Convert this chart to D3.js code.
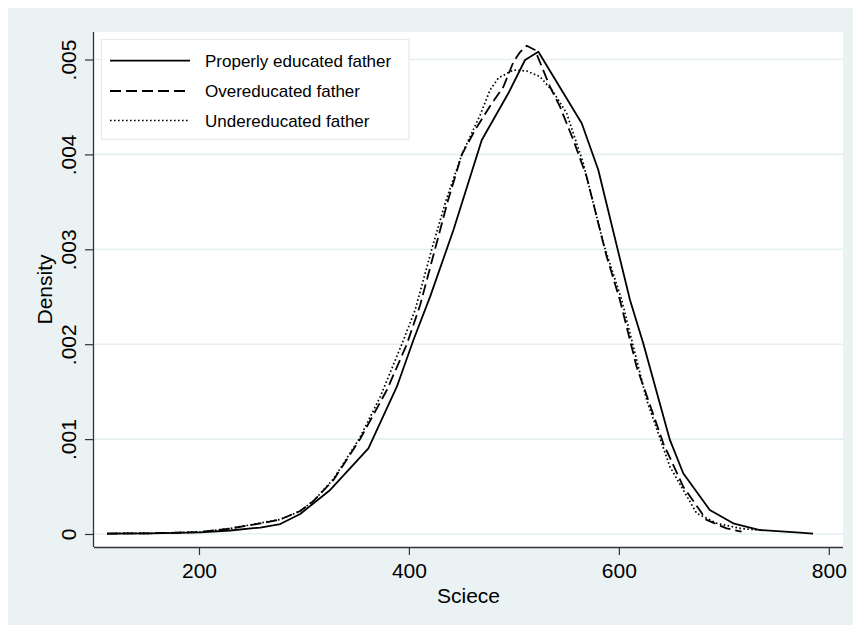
<!DOCTYPE html>
<html>
<head>
<meta charset="utf-8">
<script src="https://cdn.jsdelivr.net/npm/d3@7"></script>
<style>
  html, body { margin: 0; padding: 0; background: #ffffff; overflow: hidden; }
  svg { display: block; }
  text { font-family: "Liberation Sans", Arial, sans-serif; fill: #000; }
</style>
</head>
<body>
<svg id="chart" width="853" height="625"></svg>
<script>
// ---- Data ----
const seriesNames = ["Properly educated father", "Overeducated father", "Undereducated father"];

const properlyEducated = [
  [112.4,0.000005],[153.6,0.000007],[201.2,0.000018],[229.8,0.000037],[258.4,0.000068],
  [277.4,0.000105],[296.4,0.000211],[325.0,0.000464],[361.4,0.000903],[388.5,0.001552],
  [404.3,0.002044],[420.2,0.002501],[442.4,0.003203],[469.4,0.004152],[494.7,0.004644],
  [510.6,0.004995],[523.3,0.005082],[564.6,0.004328],[580.4,0.003836],[610.6,0.002466],
  [623.2,0.002009],[648.6,0.000991],[661.3,0.000640],[686.6,0.000253],[708.9,0.000113],
  [734.3,0.000042],[772.4,0.000014],[785.0,0.000005]
];

const overeducated = [
  [112.4,0.000005],[153.6,0.000007],[201.2,0.000021],[229.8,0.000058],[258.4,0.000111],
  [277.4,0.000153],[296.4,0.000242],[309.1,0.000348],[328.1,0.000569],[353.5,0.001001],
  [379.0,0.001517],[398.0,0.001999],[410.7,0.002413],[424.9,0.003003],[437.3,0.003519],
  [450.4,0.003999],[463.0,0.004257],[477.3,0.004510],[490.0,0.004713],[499.5,0.004974],
  [505.9,0.005079],[512.2,0.005145],[520.1,0.005100],[534.4,0.004713],[543.9,0.004503],
  [556.6,0.004152],[569.3,0.003765],[588.4,0.002922],[601.0,0.002466],[616.9,0.001763],
  [642.3,0.000956],[661.3,0.000498],[683.6,0.000148],[702.6,0.000060],[716.9,0.000024]
];

const undereducated = [
  [112.4,0.000005],[153.6,0.000007],[201.2,0.000021],[229.8,0.000058],[258.4,0.000116],
  [277.4,0.000153],[296.4,0.000242],[309.1,0.000348],[328.1,0.000580],[352.6,0.001001],
  [372.6,0.001444],[393.2,0.001999],[405.9,0.002360],[421.8,0.003003],[435.4,0.003519],
  [450.4,0.003999],[467.8,0.004415],[477.3,0.004679],[485.2,0.004805],[499.5,0.004889],
  [512.2,0.004879],[524.9,0.004819],[537.6,0.004657],[550.3,0.004433],[566.1,0.003906],
  [585.2,0.003063],[602.7,0.002466],[626.5,0.001412],[648.6,0.000709],[674.1,0.000218],
  [693.1,0.000113],[715.3,0.000060],[731.2,0.000042]
];

const xTicks = [200, 400, 600, 800];
const yTicks = [0, 0.001, 0.002, 0.003, 0.004, 0.005];
const yTickLabels = ["0", ".001", ".002", ".003", ".004", ".005"];
const xTitle = "Sciece";
const yTitle = "Density";

// ---- Layout ----
const W = 853, H = 625;
const plot = { left: 94, right: 843, top: 32, bottom: 547 };
const bg = "#eaf2f3";

const svg = d3.select("#chart");

// outer background
svg.append("rect").attr("x", 8).attr("y", 8).attr("width", W + 20).attr("height", H + 20).attr("fill", bg);
// plot region
svg.append("rect").attr("x", plot.left).attr("y", plot.top)
  .attr("width", plot.right - plot.left).attr("height", plot.bottom - plot.top).attr("fill", "#ffffff");

const x = d3.scaleLinear().domain([100, 813.5]).range([plot.left, plot.right]);
const y = d3.scaleLinear().domain([-0.000137, 0.00529]).range([plot.bottom, plot.top]);

// gridlines
svg.append("g").selectAll("line").data(yTicks).join("line")
  .attr("x1", plot.left).attr("x2", plot.right)
  .attr("y1", d => y(d)).attr("y2", d => y(d))
  .attr("stroke", "#e6eff0").attr("stroke-width", 1.6);

// axes
const xAxis = d3.axisBottom(x).tickValues(xTicks).tickSize(8).tickPadding(8).tickFormat(d3.format("d"));
const gx = svg.append("g").attr("transform", `translate(0,${plot.bottom})`).call(xAxis);
gx.select(".domain").attr("d", `M${plot.left},0.5H${plot.right}`).attr("stroke", "#333").attr("stroke-width", 1.3);
gx.selectAll(".tick line").attr("stroke", "#333").attr("stroke-width", 1.2);
gx.selectAll(".tick text").attr("font-size", 21).attr("font-family", "Liberation Sans, Arial, sans-serif").attr("fill", "#000");

const yAxis = d3.axisLeft(y).tickValues(yTicks).tickSize(9).tickFormat((d, i) => yTickLabels[i]);
const gy = svg.append("g").attr("transform", `translate(${plot.left},0)`).call(yAxis);
gy.select(".domain").attr("d", `M-0.5,${plot.top}V${plot.bottom}`).attr("stroke", "#333").attr("stroke-width", 1.3);
gy.selectAll(".tick line").attr("stroke", "#333").attr("stroke-width", 1.2);
gy.selectAll(".tick text")
  .attr("font-size", 21).attr("font-family", "Liberation Sans, Arial, sans-serif").attr("fill", "#000")
  .attr("text-anchor", "middle")
  .attr("x", null).attr("dy", null)
  .attr("transform", "translate(-18,0) rotate(-90)");

// axis titles
svg.append("text").attr("x", (plot.left + plot.right) / 2).attr("y", 603)
  .attr("text-anchor", "middle").attr("font-size", 21).text(xTitle);
svg.append("text").attr("transform", `translate(52,${(plot.top + plot.bottom) / 2}) rotate(-90)`)
  .attr("text-anchor", "middle").attr("font-size", 21).text(yTitle);

// curves
const line = d3.line().x(d => x(d[0])).y(d => y(d[1]));
const styles = [
  { data: properlyEducated, dash: null, width: 1.8 },
  { data: overeducated, dash: "11,5", width: 1.8 },
  { data: undereducated, dash: "1.6,2.4", width: 1.7 }
];
const gc = svg.append("g");
styles.forEach(s => {
  gc.append("path").datum(s.data).attr("d", line)
    .attr("fill", "none").attr("stroke", "#000").attr("stroke-width", s.width)
    .attr("stroke-dasharray", s.dash).attr("stroke-linejoin", "round");
});

// legend
const lg = svg.append("g");
lg.append("rect").attr("x", 101.5).attr("y", 39.5).attr("width", 307.5).attr("height", 100)
  .attr("fill", "#ffffff").attr("stroke", "#e3ebec").attr("stroke-width", 1.2);
const rowY = [60.7, 91, 120.5];
styles.forEach((s, i) => {
  lg.append("line").attr("x1", 110).attr("x2", 190).attr("y1", rowY[i]).attr("y2", rowY[i])
    .attr("stroke", "#000").attr("stroke-width", s.width).attr("stroke-dasharray", s.dash);
  lg.append("text").attr("x", 205).attr("y", rowY[i] + 6).attr("font-size", 17).text(seriesNames[i]);
});
</script>
</body>
</html>
